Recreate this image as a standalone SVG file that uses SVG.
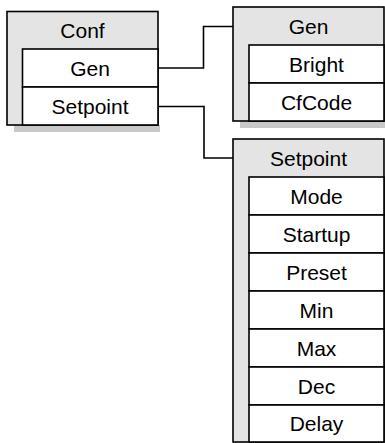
<svg xmlns="http://www.w3.org/2000/svg" width="385" height="443" viewBox="0 0 385 443">
  <style>
    .frame { fill: #e4e4e4; stroke: #000; stroke-width: 1.6; }
    .shadow { fill: #c8c8c8; stroke: none; }
    .row { fill: #fff; stroke: #000; stroke-width: 1.6; }
    .lbl { font-family: "Liberation Sans", Arial, sans-serif; font-size: 21px; fill: #000; text-anchor: middle; }
    .wire { fill: none; stroke: #000; stroke-width: 1.6; }
  </style>
  <rect width="385" height="443" fill="#fff"/>

  <g id="connectors">
    <polyline class="wire" points="158,68 203.5,68 203.5,26.5 233,26.5"/>
    <polyline class="wire" points="158,106.5 204,106.5 204,158 233,158"/>
  </g>

  <g id="conf">
    <rect class="shadow" x="14" y="125" width="146" height="7"/>
    <rect class="frame" x="7" y="11.5" width="151" height="113.5"/>
    <text class="lbl" x="82.5" y="38">Conf</text>
    <rect class="row" x="22.5" y="49" width="135.5" height="38"/>
    <text class="lbl" x="90" y="75.5">Gen</text>
    <rect class="row" x="22.5" y="87" width="135.5" height="38"/>
    <text class="lbl" x="90" y="113.5">Setpoint</text>
  </g>

  <g id="gen">
    <rect class="shadow" x="240" y="121" width="146" height="7"/>
    <rect class="frame" x="233" y="7" width="151" height="114"/>
    <text class="lbl" x="308.5" y="33.5">Gen</text>
    <rect class="row" x="249" y="45" width="135" height="38"/>
    <text class="lbl" x="316.5" y="71.5">Bright</text>
    <rect class="row" x="249" y="83" width="135" height="38"/>
    <text class="lbl" x="316.5" y="109.5">CfCode</text>
  </g>

  <g id="setpoint">
    <rect class="frame" x="233" y="139" width="151" height="303"/>
    <text class="lbl" x="308.5" y="165.5">Setpoint</text>
    <rect class="row" x="249" y="177" width="135" height="38"/>
    <text class="lbl" x="316.5" y="203.5">Mode</text>
    <rect class="row" x="249" y="215" width="135" height="38"/>
    <text class="lbl" x="316.5" y="241.5">Startup</text>
    <rect class="row" x="249" y="253" width="135" height="38"/>
    <text class="lbl" x="316.5" y="279.5">Preset</text>
    <rect class="row" x="249" y="291" width="135" height="38"/>
    <text class="lbl" x="316.5" y="317.5">Min</text>
    <rect class="row" x="249" y="329" width="135" height="38"/>
    <text class="lbl" x="316.5" y="355.5">Max</text>
    <rect class="row" x="249" y="367" width="135" height="38"/>
    <text class="lbl" x="316.5" y="393.5">Dec</text>
    <rect class="row" x="249" y="405" width="135" height="37"/>
    <text class="lbl" x="316.5" y="431">Delay</text>
  </g>
</svg>
